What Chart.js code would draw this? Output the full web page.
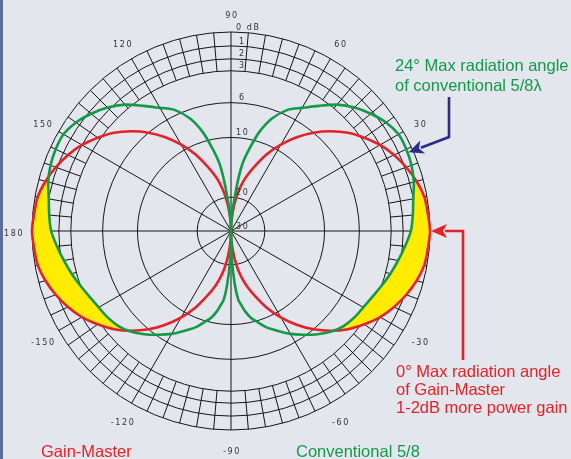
<!DOCTYPE html>
<html>
<head>
<meta charset="utf-8">
<script src="https://cdn.jsdelivr.net/npm/chart.js@4.4.1/dist/chart.umd.min.js"></script>
<style>
  html, body { margin: 0; padding: 0; background: #e3e6ec; }
  #wrap { position: relative; width: 571px; height: 459px; }
  #bar { position: absolute; left: 0; top: 0; width: 3px; height: 100%; background: #5c6e98; }
</style>
</head>
<body>
<div id="wrap"><canvas id="chart"></canvas><div id="bar"></div></div>
<script>
// elevation angle (deg) and relative gain (dB below max) for each antenna
const elevation = [90, 88, 86, 84, 82, 80, 77, 74, 70, 65, 60, 55, 50, 45, 40, 35, 30, 25, 20, 15, 10, 5, 0,
  -5, -10, -15, -20, -25, -30, -35, -40, -45, -50, -55, -60, -65, -70, -74, -77, -80, -82, -84, -86, -88, -90];
const gainMasterDb = [30, 27.9, 25.9, 23.5, 21.2, 19.3, 17.6, 16.1, 14.2, 11.5, 9.3, 7.6, 6.0, 4.8, 3.7, 2.8, 2.0, 1.4, 0.9, 0.5, 0.2, 0.1, 0,
  0.1, 0.2, 0.5, 0.9, 1.4, 2.0, 2.8, 3.7, 4.8, 6.0, 7.6, 9.3, 11.5, 14.2, 16.1, 17.6, 19.3, 21.2, 23.5, 25.9, 27.9, 30];
const conventionalDb = [30, 27.4, 24.1, 20.6, 16.8, 13.9, 11.2, 8.9, 7.0, 5.5, 4.7, 3.7, 2.6, 1.8, 1.2, 0.7, 0.4, 0.4, 0.5, 0.7, 1.0, 1.2, 1.4,
  1.8, 2.2, 2.6, 3.0, 3.4, 3.7, 3.9, 4.2, 4.7, 5.4, 6.2, 7.1, 8.1, 9.0, 9.9, 10.7, 12.0, 13.1, 14.1, 16.8, 21.2, 30];

// chart paper: dB rings and where they sit (fraction of outer radius)
const ringDb = [0, 1, 2, 3, 6, 10, 20, 30];
const ringRadius = [1, 0.93, 0.865, 0.805, 0.645, 0.47, 0.17, 0];
const angleLabels = [90, 60, 30, -30, -60, -90, -120, -150, 180, 150, 120];
const seriesNames = ['Gain-Master', 'Conventional 5/8'];

const CX = 231, CY = 231, R = 199, W = 571, H = 459;
const RED = '#e42229', GREEN = '#14994a', YELLOW = '#ffec00', NAVY = '#2e2c86';

function dbToRadius(db) {
  for (let i = 1; i < ringDb.length; i++) {
    if (db <= ringDb[i]) {
      const t = (db - ringDb[i - 1]) / (ringDb[i] - ringDb[i - 1]);
      return ringRadius[i - 1] + t * (ringRadius[i] - ringRadius[i - 1]);
    }
  }
  return 0;
}

function polar(deg, db) {
  const r = dbToRadius(db), a = deg * Math.PI / 180;
  return { x: r * Math.cos(a), y: r * Math.sin(a) };
}

// right lobe (-90 -> 90) then mirrored left lobe (90 -> 270)
function trace(db) {
  const pts = [];
  for (let i = elevation.length - 1; i >= 0; i--) pts.push(polar(elevation[i], db[i]));
  for (let i = 1; i < elevation.length; i++) pts.push(polar(180 - elevation[i], db[i]));
  return pts;
}

const envelopeDb = elevation.map((e, i) => Math.min(gainMasterDb[i], conventionalDb[i]));
const yellowPts = trace(envelopeDb).concat(trace(conventionalDb).reverse());

const gridPlugin = {
  id: 'polarGrid',
  beforeDatasetsDraw(chart) {
    const { ctx, scales: { x, y } } = chart;
    const cx = x.getPixelForValue(0), cy = y.getPixelForValue(0);
    const rr = x.getPixelForValue(1) - cx;
    ctx.save();
    ctx.strokeStyle = '#151515';
    ctx.lineWidth = 1;
    ringRadius.forEach(f => {
      if (f <= 0) return;
      ctx.beginPath();
      ctx.arc(cx, cy, f * rr, 0, Math.PI * 2);
      ctx.stroke();
    });
    for (let a = 0; a < 180; a += 30) {
      const c = Math.cos(a * Math.PI / 180), s = Math.sin(a * Math.PI / 180);
      ctx.beginPath();
      ctx.moveTo(cx - c * rr, cy + s * rr);
      ctx.lineTo(cx + c * rr, cy - s * rr);
      ctx.stroke();
    }
    const rIn = dbToRadius(3) * rr;
    for (let a = 0; a < 360; a += 5) {
      if (a % 30 === 0) continue;
      const c = Math.cos(a * Math.PI / 180), s = Math.sin(a * Math.PI / 180);
      ctx.beginPath();
      ctx.moveTo(cx + c * rIn, cy - s * rIn);
      ctx.lineTo(cx + c * rr, cy - s * rr);
      ctx.stroke();
    }
    ctx.restore();
  }
};

function arrow(ctx, pts, color, headLen, headHalf) {
  const n = pts.length;
  const tip = pts[n - 1], prev = pts[n - 2];
  const dx = tip[0] - prev[0], dy = tip[1] - prev[1];
  const len = Math.hypot(dx, dy), ux = dx / len, uy = dy / len;
  const bx = tip[0] - ux * headLen, by = tip[1] - uy * headLen;
  ctx.save();
  ctx.strokeStyle = color; ctx.fillStyle = color;
  ctx.lineWidth = 2.6; ctx.lineJoin = 'miter';
  ctx.beginPath();
  ctx.moveTo(pts[0][0], pts[0][1]);
  for (let i = 1; i < n - 1; i++) ctx.lineTo(pts[i][0], pts[i][1]);
  ctx.lineTo(bx + ux * 2, by + uy * 2);
  ctx.stroke();
  ctx.beginPath();
  ctx.moveTo(tip[0], tip[1]);
  ctx.lineTo(bx - uy * headHalf, by + ux * headHalf);
  ctx.lineTo(bx + ux * 4, by + uy * 4);
  ctx.lineTo(bx + uy * headHalf, by - ux * headHalf);
  ctx.closePath();
  ctx.fill();
  ctx.restore();
}

const labelPlugin = {
  id: 'labels',
  afterDraw(chart) {
    const { ctx, scales: { x, y } } = chart;
    const cx = x.getPixelForValue(0), cy = y.getPixelForValue(0);
    const rr = x.getPixelForValue(1) - cx;
    ctx.save();
    ctx.fillStyle = '#333';
    ctx.font = '8px "DejaVu Sans"';
    ctx.letterSpacing = '1.6px';
    ctx.textAlign = 'center';
    ctx.textBaseline = 'middle';
    angleLabels.forEach(a => {
      const r = rr * 1.095;
      const px = cx + r * Math.cos(a * Math.PI / 180);
      const py = cy - r * Math.sin(a * Math.PI / 180) + 3;
      ctx.fillText(String(a), px + 1, py);
    });
    ctx.textAlign = 'left';
    ringDb.forEach((d, i) => {
      const py = cy - ringRadius[i] * rr - 4.5;
      ctx.fillText(i === 0 ? '0 dB' : String(d), d < 10 && i > 0 ? cx + 8 : cx + 5, py);
    });
    ctx.letterSpacing = '0px';

    // annotations
    const blueTip = polar(24, 0.4), redTip = polar(0, 0);
    arrow(ctx, [[449, 97], [449, 137], [x.getPixelForValue(blueTip.x) + 1, y.getPixelForValue(blueTip.y)]], NAVY, 15, 7);
    arrow(ctx, [[463, 360], [463, cy], [x.getPixelForValue(redTip.x) + 1, cy]], RED, 16, 7);

    ctx.font = '16.5px "Liberation Sans", Arial, sans-serif';
    ctx.textBaseline = 'middle';
    ctx.fillStyle = GREEN;
    ctx.fillText('24\u00b0 Max radiation angle', 395, 66);
    ctx.fillText('of conventional 5/8\u03bb', 395, 86);
    ctx.fillStyle = RED;
    ctx.fillText('0\u00b0 Max radiation angle', 396, 372);
    ctx.fillText('of Gain-Master', 396, 390);
    ctx.fillText('1-2dB more power gain', 396, 408);
    ctx.fillText(seriesNames[0], 41, 452);
    ctx.fillStyle = GREEN;
    ctx.fillText(seriesNames[1], 296, 452);
    ctx.restore();
  }
};

new Chart(document.getElementById('chart'), {
  type: 'scatter',
  data: {
    datasets: [
      { label: seriesNames[1], data: trace(conventionalDb), showLine: true, borderColor: GREEN, borderWidth: 2.6, pointRadius: 0, tension: 0.3, fill: false },
      { label: seriesNames[0], data: trace(gainMasterDb), showLine: true, borderColor: RED, borderWidth: 2.6, pointRadius: 0, tension: 0.3, fill: false },
      { label: 'extra gain', data: yellowPts, showLine: true, borderWidth: 0, borderColor: 'rgba(0,0,0,0)', backgroundColor: YELLOW, pointRadius: 0, tension: 0.3, fill: 'shape' }
    ]
  },
  options: {
    responsive: true,
    maintainAspectRatio: false,
    animation: false,
    events: [],
    layout: { padding: 0 },
    scales: {
      x: { type: 'linear', display: false, min: -CX / R, max: (W - CX) / R },
      y: { type: 'linear', display: false, min: -(H - CY) / R, max: CY / R }
    },
    plugins: { legend: { display: false }, tooltip: { enabled: false } }
  },
  plugins: [gridPlugin, labelPlugin]
});
</script>
</body>
</html>
